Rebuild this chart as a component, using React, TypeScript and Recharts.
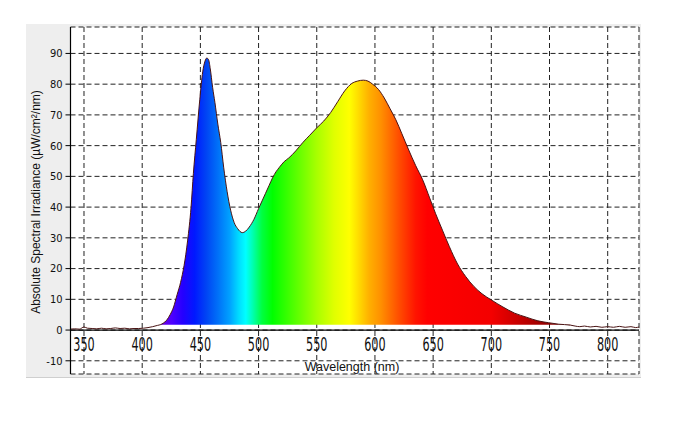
import React from 'react';
import {
  ComposedChart,
  Area,
  Line,
  XAxis,
  YAxis,
  CartesianGrid,
  ReferenceLine,
} from 'recharts';

// ---- data ----
const wavelengths = [
  338, 342, 346, 350, 353, 357, 361, 365, 369, 373, 377, 381, 385, 389, 393, 397, 401, 405, 409, 413,
  416, 418, 421, 424, 427, 430, 433, 436, 439, 442, 444, 446.5, 449.5, 452, 454, 455.5, 457, 458.5,
  460.5, 462.5, 465, 467.5, 470, 473, 476, 479, 482, 486, 489, 492, 496, 500, 503, 506, 509, 512, 515,
  518, 522, 526, 532, 538, 544, 550, 556, 562, 568, 574, 580, 585, 590, 594, 598, 603, 608, 613, 618,
  623, 629, 635, 641, 647, 652, 658, 664, 671, 678, 685, 692, 700, 710, 720, 730, 740, 749, 758, 768,
  772, 776, 780, 785, 790, 795, 800, 805, 810, 815, 820, 824, 826.9,
];
const irradiance = [
  0.3, 0.4, 0.3, 1.0, 0.6, 0.5, 0.4, 0.6, 0.4, 0.5, 0.7, 0.5, 0.6, 0.4, 0.5, 0.5, 0.6, 0.8, 1.1, 1.5,
  1.8, 2.2, 3.2, 5.0, 7.5, 11.5, 15.5, 21, 29, 40, 51, 62, 75, 84, 87.5, 88.5, 88, 85,
  79, 74, 67, 61, 53, 45, 39, 35, 33, 31.7, 32.2, 33.5, 36, 39.5, 42, 44.5, 47, 49.5, 51.5,
  53, 54.8, 56, 58.3, 61, 63.4, 65.8, 68, 70.8, 74.3, 77.8, 80.2, 81, 81.3, 81, 80, 78.3, 75.5, 72, 68.4,
  64, 58.6, 53.5, 48.9, 43, 38, 32.5, 27.1, 21.5, 17.4, 14.2, 11.8, 9.8, 7.5, 5.5, 4.2, 3.0, 2.4, 1.9, 1.6,
  1.3, 1.1, 1.3, 1.0, 1.2, 0.9, 1.1, 0.9, 1.2, 0.9, 1.1, 0.8, 1.0,
];
const FILL_FROM = 416;
const FILL_TO = 768;
const FILL_BASE = 1.7;

const xTicks = [350, 400, 450, 500, 550, 600, 650, 700, 750, 800];
const yTicks = [-10, 0, 10, 20, 30, 40, 50, 60, 70, 80, 90];
const X_DOMAIN: [number, number] = [338.4, 826.9];
const Y_DOMAIN: [number, number] = [-14.3, 98.6];

const spectrumStops: [number, string][] = [
  [416, '#6a00d8'],
  [425, '#5000ff'],
  [435, '#2400ff'],
  [445, '#0018ff'],
  [455, '#0044f4'],
  [465, '#0070f8'],
  [475, '#00a0ff'],
  [483, '#00dcff'],
  [489, '#00ffff'],
  [495, '#00ffb0'],
  [503, '#00ff40'],
  [512, '#00ff00'],
  [530, '#50ff00'],
  [550, '#a8ff00'],
  [565, '#e0ff00'],
  [578, '#ffff00'],
  [585, '#ffe000'],
  [595, '#ffb000'],
  [605, '#ff9000'],
  [620, '#ff5000'],
  [635, '#ff1400'],
  [645, '#ff0000'],
  [700, '#f40000'],
  [725, '#c40000'],
  [750, '#900000'],
  [768, '#700000'],
];

const rows = wavelengths.map((w, i) => ({
  w,
  value: irradiance[i],
  fill: w >= FILL_FROM && w <= FILL_TO ? irradiance[i] : null,
}));

// ---- layout ----
const W = 687;
const H = 424;
const MARGIN = { top: 27, right: 48, bottom: 20, left: 30 };
const Y_AXIS_W = 40.5;
const X_AXIS_H = 30;
const PLOT_H = H - MARGIN.top - MARGIN.bottom - X_AXIS_H;
const ZERO_SHIFT = (PLOT_H * (0 - Y_DOMAIN[0])) / (Y_DOMAIN[1] - Y_DOMAIN[0]);

const NARROW = '"Liberation Sans Narrow", "DejaVu Sans Condensed", "Arial Narrow", sans-serif';
const SANS = '"Liberation Sans", Arial, sans-serif';

const XTick = (props: any) => {
  const { x, y, payload } = props;
  return (
    <g transform={`translate(${x},${y - ZERO_SHIFT + 14}) scale(1,1.5)`}>
      <text textAnchor="middle" dy="0.36em" fontSize={12.5} fontFamily={NARROW} fill="#111">
        {payload.value}
      </text>
    </g>
  );
};

export default function App() {
  return (
    <div style={{ position: 'absolute', left: 0, top: 0, width: W, height: H, background: '#fff' }}>
      <div
        style={{
          position: 'absolute',
          left: 26,
          top: 24,
          width: 615,
          height: 353,
          background: '#eeeeee',
          borderBottom: '1px solid #cfcfcf',
        }}
      />
      <div style={{ position: 'absolute', left: 0, top: 0 }}>
        <ComposedChart width={W} height={H} data={rows} margin={MARGIN}>
          <defs>
            <linearGradient id="spectrum" x1="0" y1="0" x2="1" y2="0">
              {spectrumStops.map(([w, c]) => (
                <stop key={w} offset={(w - FILL_FROM) / (FILL_TO - FILL_FROM)} stopColor={c} />
              ))}
            </linearGradient>
          </defs>
          <CartesianGrid stroke="#222" strokeDasharray="5 3" fill="#ffffff" />
          <XAxis
            dataKey="w"
            type="number"
            domain={X_DOMAIN}
            ticks={xTicks}
            allowDataOverflow
            axisLine={false}
            tickLine={false}
            tickSize={0}
            tickMargin={0}
            height={X_AXIS_H}
            tick={<XTick />}
            interval={0}
          />
          <YAxis
            type="number"
            domain={Y_DOMAIN}
            ticks={yTicks}
            allowDataOverflow
            width={Y_AXIS_W}
            axisLine={{ stroke: '#000', strokeWidth: 1.2 }}
            tickLine={{ stroke: '#000' }}
            tickSize={5}
            tickMargin={3}
            interval={0}
            tick={{ fontSize: 11, fontFamily: NARROW, fill: '#111' }}
          />
          <Area
            dataKey="fill"
            type="monotone"
            baseValue={FILL_BASE}
            stroke="none"
            fill="url(#spectrum)"
            fillOpacity={1}
            isAnimationActive={false}
            dot={false}
            activeDot={false}
          />
          <ReferenceLine y={0} stroke="#000" strokeWidth={1.2} />
          <Line
            dataKey="value"
            type="monotone"
            stroke="#4a1414"
            strokeWidth={1}
            dot={false}
            activeDot={false}
            isAnimationActive={false}
          />
        </ComposedChart>
      </div>
      <div
        style={{
          position: 'absolute',
          left: 36,
          top: 202,
          transform: 'translate(-50%, -50%) rotate(-90deg)',
          whiteSpace: 'nowrap',
          fontFamily: SANS,
          fontSize: 12,
          color: '#111',
        }}
      >
        Absolute Spectral Irradiance (µW/cm²/nm)
      </div>
      <div
        style={{
          position: 'absolute',
          left: 352,
          top: 367,
          transform: 'translate(-50%, -50%)',
          whiteSpace: 'nowrap',
          fontFamily: SANS,
          fontSize: 12.5,
          color: '#111',
          lineHeight: 1,
        }}
      >
        Wavelength (nm)
      </div>
    </div>
  );
}
